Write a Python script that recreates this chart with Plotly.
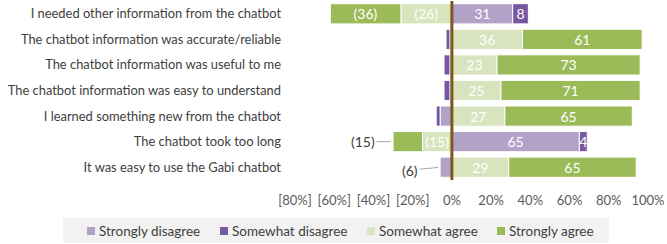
import plotly.graph_objects as go

categories = [
    "I needed other information from the chatbot",
    "The chatbot information was accurate/reliable",
    "The chatbot information was useful to me",
    "The chatbot information was easy to understand",
    "I learned something new from the chatbot",
    "The chatbot took too long",
    "It was easy to use the Gabi chatbot",
]
# signed percentages (negative = drawn left of zero), as in the source chart
strongly_disagree = [31, -1, -1, -1, -6, 65, -6]
somewhat_disagree = [8, -2, -3, -3, -2, 4, 0]
somewhat_agree = [-26, 36, 23, 25, 27, -15, 29]
strongly_agree = [-36, 61, 73, 71, 65, -15, 65]

series_names = ["Strongly disagree", "Somewhat disagree", "Somewhat agree", "Strongly agree"]
series_values = [strongly_disagree, somewhat_disagree, somewhat_agree, strongly_agree]
series_colors = ["#B3A2C7", "#7657A2", "#D7E4BD", "#9BBB59"]

# labels drawn outside with a leader line: (series index, category index)
callouts = [(3, 5), (0, 6)]

tick_vals = [-80, -60, -40, -20, 0, 20, 40, 60, 80, 100]
tick_text = ["[80%]", "[60%]", "[40%]", "[20%]", "0%", "20%", "40%", "60%", "80%", "100%"]

FONT = "Lato"
W, H = 667, 244
ML, MR, MT, MB = 295, 19, 1, 64
PW, PH = W - ML - MR, H - MT - MB

def fx(px):
    return (px - ML) / PW

def fy(py):
    return (H - MB - py) / PH

def fmt(v):
    return str(v) if v > 0 else "(%d)" % (-v)

fig = go.Figure()
for si, (name, vals, col) in enumerate(zip(series_names, series_values, series_colors)):
    texts = []
    for ci, v in enumerate(vals):
        if (si, ci) in callouts:
            texts.append("")
        elif v > 0 or v <= -10:
            texts.append(fmt(v))
        else:
            texts.append("")
    fig.add_trace(go.Bar(
        name=name, y=categories, x=vals, orientation="h",
        marker=dict(color=col, line=dict(color="white", width=1)),
        text=texts, textposition="inside", insidetextanchor="middle",
        textangle=0, constraintext="none",
        textfont=dict(color="white", size=14, family=FONT),
        hoverinfo="skip", showlegend=False,
    ))

# outside callout labels
for si, ci in callouts:
    neg_total = sum(v[ci] for v in series_values if v[ci] < 0)
    fig.add_annotation(
        x=neg_total, y=categories[ci], xref="x", yref="y",
        text=fmt(series_values[si][ci]), showarrow=True, arrowhead=0,
        arrowcolor="#A6A6A6", arrowwidth=1, standoff=2,
        ax=-30, ay=3 if si == 0 else 0,
        font=dict(size=14, color="#404040", family=FONT),
    )

fig.add_shape(type="line", xref="x", yref="paper", x0=0, x1=0, y0=0, y1=1,
              line=dict(color="#7F561B", width=3), layer="above")

# legend box (drawn manually so all four entries sit on one row)
legend_box = (63, 609, 218, 243)
legend_marker_x = [87, 220, 367, 497]
legend_y = 231
fig.add_shape(type="rect", xref="paper", yref="paper",
              x0=fx(legend_box[0]), x1=fx(legend_box[1]),
              y0=fy(legend_box[3]), y1=fy(legend_box[2]),
              fillcolor="#F2F2F2", line=dict(width=0), layer="below")
for name, col, mx in zip(series_names, series_colors, legend_marker_x):
    fig.add_shape(type="rect", xref="paper", yref="paper",
                  x0=fx(mx), x1=fx(mx + 8), y0=fy(legend_y + 4), y1=fy(legend_y - 4),
                  fillcolor=col, line=dict(width=0))
    fig.add_annotation(x=fx(mx + 10), y=fy(legend_y), xref="paper", yref="paper",
                       text=name, showarrow=False, xanchor="left", yanchor="middle",
                       font=dict(size=13.5, color="#404040", family=FONT))

fig.update_layout(
    width=W, height=H,
    margin=dict(l=ML, r=MR, t=MT, b=MB),
    barmode="relative", bargap=0.21,
    plot_bgcolor="white", paper_bgcolor="white",
    font=dict(family=FONT, size=13, color="#404040"),
    xaxis=dict(range=[-80, 100], tickvals=tick_vals, ticktext=tick_text,
               showgrid=False, zeroline=False, showline=False,
               tickfont=dict(size=13, color="#595959"), ticklabelstandoff=11,
               fixedrange=True, automargin=False),
    yaxis=dict(categoryorder="array", categoryarray=categories, autorange="reversed",
               showgrid=False, zeroline=False, showline=False,
               tickfont=dict(size=12.9, color="#404040"), ticklabelstandoff=13,
               fixedrange=True, automargin=False),
    showlegend=False,
)

fig.write_html("out.html")
